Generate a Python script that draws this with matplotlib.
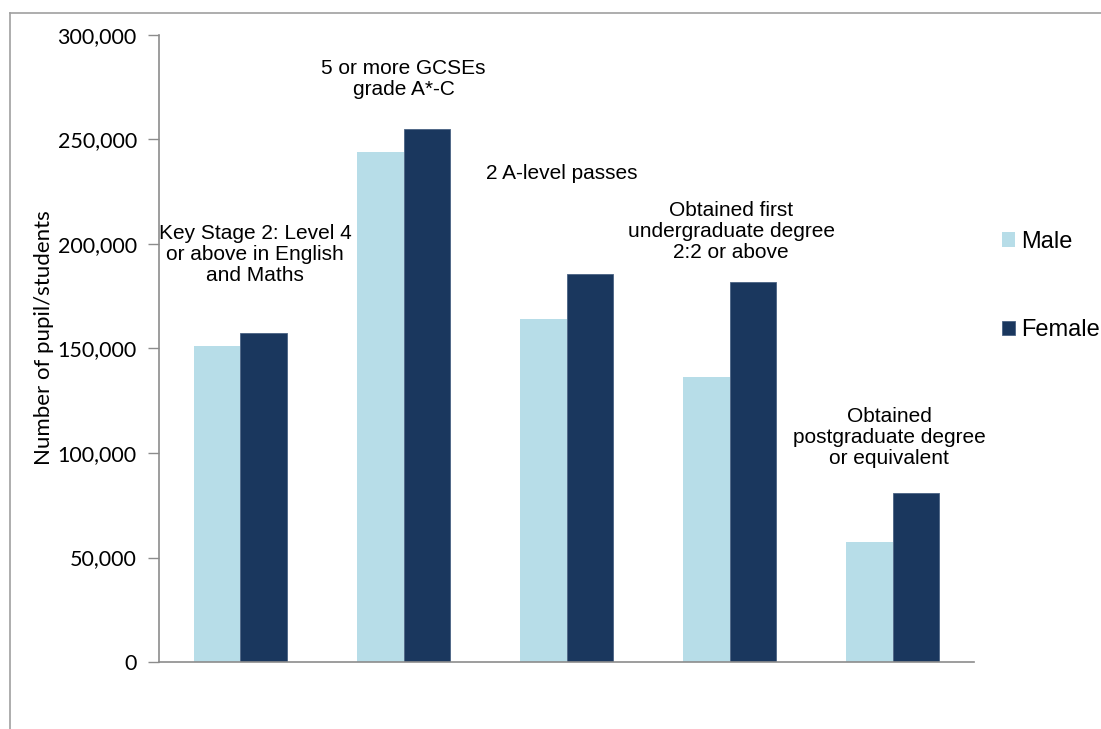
import numpy as np
import matplotlib.pyplot as plt
from matplotlib.lines import Line2D
from matplotlib.ticker import FuncFormatter

plt.rcParams['font.family'] = ['Liberation Sans', 'DejaVu Sans']

# Attainment stages and counts by sex
stages = [
    "Key Stage 2: Level 4\nor above in English\nand Maths",
    "5 or more GCSEs\ngrade A*-C",
    "2 A-level passes",
    "Obtained first\nundergraduate degree\n2:2 or above",
    "Obtained\npostgraduate degree\nor equivalent",
]
male = [151000, 244000, 164000, 136500, 57500]
female = [157500, 255000, 185500, 182000, 81000]

# where each stage caption sits (x offset from group centre, y in data units)
label_dx = [0.09, 0.0, -0.03, 0.01, -0.02]
label_y = [195000, 279000, 233500, 206000, 107500]

male_col = "#B7DDE8"
female_col = "#1A375E"
axis_col = "#8C8C8C"

fig = plt.figure(figsize=(11.01, 7.29), dpi=100)
ax = fig.add_axes([0.1444, 0.0919, 0.7403, 0.8601])

x = np.arange(len(stages))
w = 0.285
ax.bar(x - w / 2, male, w, color=male_col, label="Male")
ax.bar(x + w / 2, female, w, color=female_col, edgecolor="#4A6283",
       linewidth=0.6, label="Female")

for i, txt in enumerate(stages):
    ax.text(x[i] + label_dx[i], label_y[i], txt, ha="center", va="center",
            fontsize=15, linespacing=1.12, color="black")

ax.set_xlim(-0.5, len(stages) - 0.5)
ax.set_ylim(0, 300000)
ax.set_yticks(np.arange(0, 300001, 50000))
ax.yaxis.set_major_formatter(FuncFormatter(lambda v, p: f"{int(v):,}"))
ax.set_xticks([])
ax.tick_params(axis="y", direction="out", length=8, width=1, color=axis_col,
               labelsize=15.5, pad=8, labelfontfamily="Lato")

for s in ["top", "right"]:
    ax.spines[s].set_visible(False)
for s in ["left", "bottom"]:
    ax.spines[s].set_color(axis_col)
    ax.spines[s].set_linewidth(1.2)

ax.set_ylabel("Number of pupil/students", fontsize=16, family="Lato")
ax.yaxis.set_label_coords(-0.1288, 0.517)

ax.legend(loc="upper left", bbox_to_anchor=(990 / 1101, 1 - 219 / 729),
          bbox_transform=fig.transFigure, frameon=False, borderpad=0,
          fontsize=17, handlelength=0.55, handleheight=0.55,
          handletextpad=0.25, labelspacing=2.82)

# outer frame of the chart area
fig.add_artist(Line2D([10 / 1101, 10 / 1101], [0, 1 - 13 / 729],
                      color="#A0A0A0", linewidth=1.2))
fig.add_artist(Line2D([10 / 1101, 1], [1 - 13 / 729, 1 - 13 / 729],
                      color="#A0A0A0", linewidth=1.2))

fig.savefig("out.png", dpi=100)
